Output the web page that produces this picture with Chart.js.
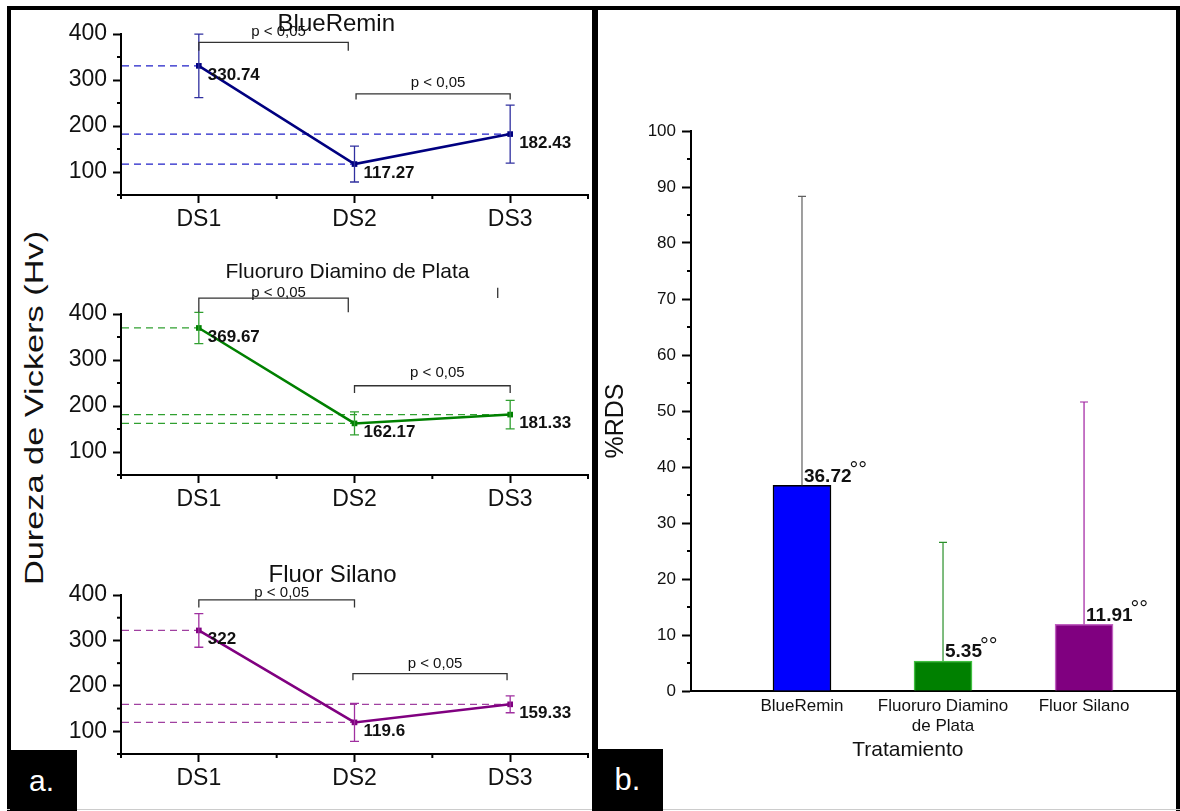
<!DOCTYPE html>
<html>
<head>
<meta charset="utf-8">
<script src="https://cdn.jsdelivr.net/npm/chart.js@4.4.0/dist/chart.umd.min.js"></script>
<style>
    body { margin: 0; width: 1180px; height: 811px; position: relative; overflow: hidden; background: #fff;
           font-family: 'Liberation Sans', Arial, sans-serif; }
    canvas { position: absolute; }
    .frame { position: absolute; background: #000; z-index: 5; }
    .tag { position: absolute; background: #000; color: #fff; z-index: 6; display: flex;
           align-items: center; justify-content: center; }
    #ytitle { position: absolute; left: 34px; top: 408px; white-space: nowrap; color: #111; font-size: 26px;
              transform: translate(-50%, -50%) rotate(-90deg) scaleX(1.32); }
</style>
</head>
<body>
<div class="frame" style="left:7px;top:6px;width:1173px;height:4px"></div>
<div class="frame" style="left:7px;top:6px;width:4px;height:805px"></div>
<div class="frame" style="left:592px;top:6px;width:6px;height:805px"></div>
<div class="frame" style="left:1176px;top:6px;width:4px;height:805px"></div>
<div class="frame" style="left:7px;top:809px;width:1173px;height:1px;background:#ccc"></div>
<div class="tag" style="left:10px;top:750px;width:67px;height:61px;font-size:30px;padding-right:4px;box-sizing:border-box">a.</div>
<div class="tag" style="left:592px;top:749px;width:71px;height:62px;font-size:31px">b.</div>
<div id="ytitle">Dureza de Vickers (Hv)</div>

<script>
// Panel a: Vickers hardness at each stage
const stages = ['DS1', 'DS2', 'DS3'];
const hardnessTicks = [100, 200, 300, 400];
const hardnessMinor = [50, 150, 250, 350];

const blueReminMeans = [330.74, 117.27, 182.43];
const blueReminSD = [69, 39, 63];
const fdpMeans = [369.67, 162.17, 181.33];
const fdpSD = [34, 25, 31];
const fluorSilanoMeans = [322, 119.6, 159.33];
const fluorSilanoSD = [37, 42, 18.5];

// Panel b: %RDS per treatment
const treatments = ['BlueRemin', ['Fluoruro Diamino', 'de Plata'], 'Fluor Silano'];
const rdsValues = [36.72, 5.35, 11.91];
const rdsSD = [51.6, 21.2, 39.7];
const rdsTicks = [0, 10, 20, 30, 40, 50, 60, 70, 80, 90, 100];
const rdsMinor = [5, 15, 25, 35, 45, 55, 65, 75, 85, 95];

const FONT = "'Liberation Sans', Arial, sans-serif";
Chart.defaults.font.family = FONT;
Chart.defaults.color = '#111';
Chart.defaults.animation = false;

const panels = [
    { title: 'BlueRemin', titleSize: 24, titleX: 0.461, titleDy: -10, plotTop: 34, plotH: 161,
      means: blueReminMeans, sd: blueReminSD,
      color: '#000080', errColor: '#3030a0', dashColor: '#2020c8',
      brackets: [ { from: 1, to: 1.96, top: 381.7, leg: 363.5, text: 404 },
                  { from: 2.01, to: 3, top: 269.8, leg: 257.4, text: 294 } ] },
    { title: 'Fluoruro Diamino de Plata', titleSize: 21, titleX: 0.485, titleDy: -42, plotTop: 314, plotH: 161,
      means: fdpMeans, sd: fdpSD,
      color: '#008000', errColor: '#30a030', dashColor: '#30a030',
      brackets: [ { from: 1, to: 1.96, top: 434.3, leg: 403.7, text: 446 },
                  { from: 2, to: 3, top: 244, leg: 228, text: 271 } ],
      stray: { x: 2.92, y1: 435, y2: 457 } },
    { title: 'Fluor Silano', titleSize: 24, titleX: 0.453, titleDy: -20, plotTop: 595, plotH: 159,
      means: fluorSilanoMeans, sd: fluorSilanoSD,
      color: '#800080', errColor: '#a030a0', dashColor: '#a040a0',
      brackets: [ { from: 1, to: 2, top: 389.3, leg: 372.6, text: 405 },
                  { from: 1.99, to: 2.98, top: 226.8, leg: 212.3, text: 248 } ] }
];

function addCanvas(left, top, width, height) {
    const c = document.createElement('canvas');
    c.width = width;
    c.height = height;
    c.style.left = left + 'px';
    c.style.top = top + 'px';
    document.body.appendChild(c);
    return c.getContext('2d');
}

function drawMinorTicks(ctx, scale, values, horizontal, len) {
    ctx.save();
    ctx.strokeStyle = '#000';
    ctx.lineWidth = 2;
    values.forEach(v => {
        const p = scale.getPixelForValue(v);
        ctx.beginPath();
        if (horizontal) {
            ctx.moveTo(p, scale.top);
            ctx.lineTo(p, scale.top + len);
        } else {
            ctx.moveTo(scale.right, p);
            ctx.lineTo(scale.right - len, p);
        }
        ctx.stroke();
    });
    ctx.restore();
}

function hardnessDecor(cfg) {
    return {
        id: 'hardnessDecor',
        beforeDatasetsDraw(chart) {
            const { ctx, chartArea, scales: { x, y } } = chart;
            ctx.save();
            ctx.strokeStyle = cfg.dashColor;
            ctx.lineWidth = 1.3;
            ctx.setLineDash([7, 5]);
            cfg.means.forEach((m, i) => {
                const py = y.getPixelForValue(m);
                ctx.beginPath();
                ctx.moveTo(chartArea.left + 1, py);
                ctx.lineTo(x.getPixelForValue(i + 1), py);
                ctx.stroke();
            });
            ctx.restore();
        },
        afterDraw(chart) {
            const { ctx, chartArea, scales: { x, y } } = chart;
            drawMinorTicks(ctx, x, [0.5, 1.5, 2.5, 3.5], true, 4);
            drawMinorTicks(ctx, y, hardnessMinor, false, 4);

            ctx.save();
            // error bars
            ctx.strokeStyle = cfg.errColor;
            ctx.lineWidth = 1.3;
            cfg.means.forEach((m, i) => {
                const px = x.getPixelForValue(i + 1);
                const hi = y.getPixelForValue(m + cfg.sd[i]);
                const lo = y.getPixelForValue(m - cfg.sd[i]);
                ctx.beginPath();
                ctx.moveTo(px, hi); ctx.lineTo(px, lo);
                ctx.moveTo(px - 4.5, hi); ctx.lineTo(px + 4.5, hi);
                ctx.moveTo(px - 4.5, lo); ctx.lineTo(px + 4.5, lo);
                ctx.stroke();
            });

            // value labels
            ctx.fillStyle = '#111';
            ctx.font = 'bold 17px ' + FONT;
            ctx.textAlign = 'left';
            ctx.textBaseline = 'middle';
            cfg.means.forEach((m, i) => {
                ctx.fillText(String(m), x.getPixelForValue(i + 1) + 9, y.getPixelForValue(m) + 9);
            });

            // significance brackets
            ctx.strokeStyle = '#333';
            ctx.lineWidth = 1.3;
            ctx.font = '15px ' + FONT;
            ctx.textAlign = 'center';
            cfg.brackets.forEach(b => {
                const x1 = x.getPixelForValue(b.from), x2 = x.getPixelForValue(b.to);
                const top = y.getPixelForValue(b.top), leg = y.getPixelForValue(b.leg);
                ctx.beginPath();
                ctx.moveTo(x1, leg); ctx.lineTo(x1, top); ctx.lineTo(x2, top); ctx.lineTo(x2, leg);
                ctx.stroke();
                ctx.fillText('p < 0,05', (x1 + x2) / 2 + 5, y.getPixelForValue(b.text));
            });
            if (cfg.stray) {
                const sx = x.getPixelForValue(cfg.stray.x);
                ctx.beginPath();
                ctx.moveTo(sx, y.getPixelForValue(cfg.stray.y1));
                ctx.lineTo(sx, y.getPixelForValue(cfg.stray.y2));
                ctx.stroke();
            }

            // panel title
            ctx.font = cfg.titleSize + 'px ' + FONT;
            ctx.fillText(cfg.title, chartArea.left + cfg.titleX * (chartArea.right - chartArea.left),
                         chartArea.top + cfg.titleDy);
            ctx.restore();
        }
    };
}

function initHardnessChart(cfg) {
    const padTop = 60, axisH = 60;
    const ctx = addCanvas(0, cfg.plotTop - padTop, 592, padTop + cfg.plotH + axisH);
    const axisLine = { color: '#000', width: 2 };
    const tickGrid = { drawOnChartArea: false, tickLength: 8, tickWidth: 2, tickColor: '#000' };
    new Chart(ctx, {
        type: 'line',
        data: {
            datasets: [{
                data: cfg.means.map((m, i) => ({ x: i + 1, y: m })),
                borderColor: cfg.color,
                backgroundColor: cfg.color,
                borderWidth: 2.5,
                pointStyle: 'rect',
                pointRadius: 4,
                pointBorderWidth: 0,
                tension: 0
            }]
        },
        options: {
            responsive: false,
            layout: { padding: { top: padTop, left: 0, right: 0, bottom: 0 } },
            plugins: { legend: { display: false }, tooltip: { enabled: false } },
            scales: {
                x: {
                    type: 'linear', min: 0.5, max: 3.5, offset: false,
                    afterBuildTicks: s => { s.ticks = stages.map((_, i) => ({ value: i + 1 })); },
                    afterFit: s => { s.height = axisH; },
                    ticks: { callback: v => stages[v - 1] || '', font: { size: 23 }, color: '#111',
                             padding: 3, maxRotation: 0, autoSkip: false },
                    grid: tickGrid,
                    border: axisLine
                },
                y: {
                    min: 50, max: 400,
                    afterBuildTicks: s => { s.ticks = hardnessTicks.map(v => ({ value: v })); },
                    afterFit: s => { s.width = 121; },
                    ticks: { font: { size: 23 }, color: '#111', padding: 6 },
                    grid: tickGrid,
                    border: axisLine
                }
            }
        },
        plugins: [hardnessDecor(cfg)]
    });
}

panels.forEach(initHardnessChart);

// ---- panel b ----
const barColors = ['#0000ff', '#008000', '#800080'];
const barEdges = ['#000000', '#40c040', '#c060c0'];
const errColors = ['#606060', '#2a902a', '#a020a0'];

const rdsDecor = {
    id: 'rdsDecor',
    afterDraw(chart) {
        const { ctx, chartArea, scales: { x, y } } = chart;
        drawMinorTicks(ctx, y, rdsMinor, false, 4);
        ctx.save();
        ctx.lineWidth = 1.2;
        rdsValues.forEach((v, i) => {
            const px = x.getPixelForValue(i + 1);
            const top = y.getPixelForValue(v);
            const hi = y.getPixelForValue(v + rdsSD[i]);
            ctx.strokeStyle = errColors[i];
            ctx.beginPath();
            ctx.moveTo(px, top); ctx.lineTo(px, hi);
            ctx.moveTo(px - 4, hi); ctx.lineTo(px + 4, hi);
            ctx.stroke();

            ctx.fillStyle = '#111';
            ctx.font = 'bold 19px ' + FONT;
            ctx.textAlign = 'left';
            ctx.textBaseline = 'middle';
            const label = v.toFixed(2);
            ctx.fillText(label, px + 2, top - 9);
            const w = ctx.measureText(label).width;
            ctx.font = '22px ' + FONT;
            ctx.fillText('°°', px + w, top - 14);
        });

        ctx.fillStyle = '#111';
        ctx.textAlign = 'center';
        ctx.textBaseline = 'middle';
        ctx.font = '21px ' + FONT;
        ctx.fillText('Tratamiento', chartArea.left + 0.447 * (chartArea.right - chartArea.left), 740);
        ctx.translate(18, 411);
        ctx.rotate(-Math.PI / 2);
        ctx.font = '25px ' + FONT;
        ctx.fillText('%RDS', 0, 0);
        ctx.restore();
    }
};

function initRdsChart() {
    const ctx = addCanvas(598, 10, 578, 801);
    const axisLine = { color: '#000', width: 2 };
    new Chart(ctx, {
        type: 'bar',
        data: {
            datasets: [{
                data: rdsValues.map((v, i) => ({ x: i + 1, y: v })),
                backgroundColor: barColors,
                borderColor: barEdges,
                borderWidth: 1.5,
                barThickness: 58
            }]
        },
        options: {
            responsive: false,
            layout: { padding: { top: 121, left: 0, right: 0, bottom: 0 } },
            plugins: { legend: { display: false }, tooltip: { enabled: false } },
            scales: {
                x: {
                    type: 'linear', min: 0.213, max: 3.652, offset: false,
                    afterBuildTicks: s => { s.ticks = treatments.map((_, i) => ({ value: i + 1 })); },
                    afterFit: s => { s.height = 120; },
                    ticks: { callback: v => treatments[v - 1] || '', font: { size: 17 }, color: '#111',
                             padding: 5, maxRotation: 0, autoSkip: false },
                    grid: { display: false, drawTicks: false },
                    border: axisLine
                },
                y: {
                    min: 0, max: 100,
                    afterBuildTicks: s => { s.ticks = rdsTicks.map(v => ({ value: v })); },
                    afterFit: s => { s.width = 93; },
                    ticks: { font: { size: 17 }, color: '#111', padding: 6 },
                    grid: { drawOnChartArea: false, tickLength: 9, tickWidth: 2, tickColor: '#000' },
                    border: axisLine
                }
            }
        },
        plugins: [rdsDecor]
    });
}

initRdsChart();
</script>
</body>
</html>
